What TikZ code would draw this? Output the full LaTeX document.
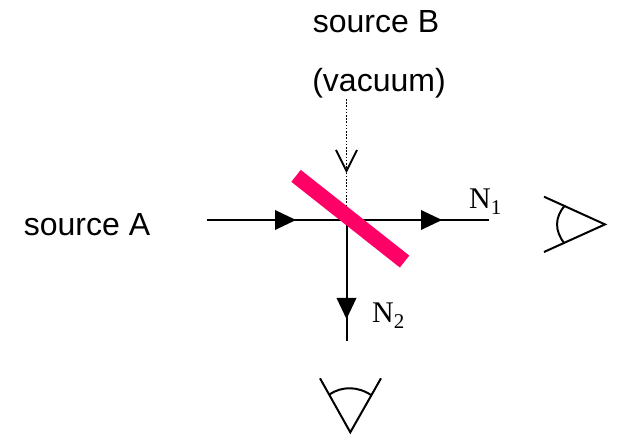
\documentclass[tikz,border=0pt]{standalone}
\usepackage{fontspec}
\setmainfont{Liberation Serif}
\newfontfamily\labelsans{Liberation Sans}
\usetikzlibrary{decorations.markings}
\definecolor{mirrorpink}{HTML}{FF0066}
\tikzset{
  beam/.style={line width=2pt,black},
  dotbeam/.style={line width=1.8pt,black,dash pattern=on 1.6pt off 1.6pt},
  eyeline/.style={line width=2pt,black},
  tipat/.style={postaction={decorate},decoration={markings,mark=at position #1 with {\fill[black] (-21pt,-10pt)--(0pt,0pt)--(-21pt,10pt)--cycle;}}},
  sanslabel/.style={anchor=base,inner sep=0pt,font=\labelsans\fontsize{32}{34}\selectfont},
  serilabel/.style={anchor=base west,inner sep=0pt,font=\fontsize{30}{32}\selectfont},
  mirror/.style={fill=mirrorpink,minimum width=138.3pt,minimum height=15.2pt,inner sep=0pt,rotate=-38.3}
}
\begin{document}
\begin{tikzpicture}[x=1pt,y=-1pt]
\useasboundingbox (0,0) rectangle (619,435);
\coordinate (center) at (346.5,220);
\coordinate (inL) at (207,220);
\coordinate (outR) at (489,220);
\coordinate (outD) at (346.5,341);
\coordinate (vacTop) at (346.5,99);
\coordinate (vacTip) at (346.5,171);
\coordinate (vacBot) at (346.5,210);
\coordinate (vacL) at (336,150);
\coordinate (vacR) at (357,150);
% beams
\draw[beam,tipat=89pt] (inL) -- (center);
\draw[beam,tipat=95.5pt] (center) -- (outR);
\draw[beam,tipat=99pt] (center) -- (outD);
\draw[dotbeam] (vacTop) -- (vacBot);
\draw[line width=1.8pt,line join=miter] (vacL) -- (vacTip) -- (vacR);
% mirror
\node[mirror] (bs) at (350.3,218.7) {};
% right eye
\coordinate (e1a) at (544,196.7);
\coordinate (e1t) at (605,224.4);
\coordinate (e1b) at (544,252);
\coordinate (e1u) at (565,205.5);
\coordinate (e1l) at (564.5,243.5);
\draw[eyeline] (e1a) -- (e1t) -- (e1b);
\draw[eyeline] (e1u) .. controls (554.5,217) and (554.5,231) .. (e1l);
% bottom eye
\coordinate (e2a) at (320,378.3);
\coordinate (e2t) at (350.3,432.3);
\coordinate (e2b) at (381,378.3);
\coordinate (e2l) at (329.3,394.5);
\coordinate (e2r) at (371.7,395.5);
\draw[eyeline] (e2a) -- (e2t) -- (e2b);
\draw[eyeline] (e2l) .. controls (342,386) and (358,386) .. (e2r);
% labels
\node[sanslabel] (srcB) at (376,33) {source B};
\node[sanslabel] (vac) at (379,92) {(vacuum)};
\node[sanslabel] (srcA) at (87,236) {source A};
\node[serilabel] (n1) at (469,209) {N\textsubscript{1}};
\node[serilabel] (n2) at (372,323) {N\textsubscript{2}};
\end{tikzpicture}
\end{document}
